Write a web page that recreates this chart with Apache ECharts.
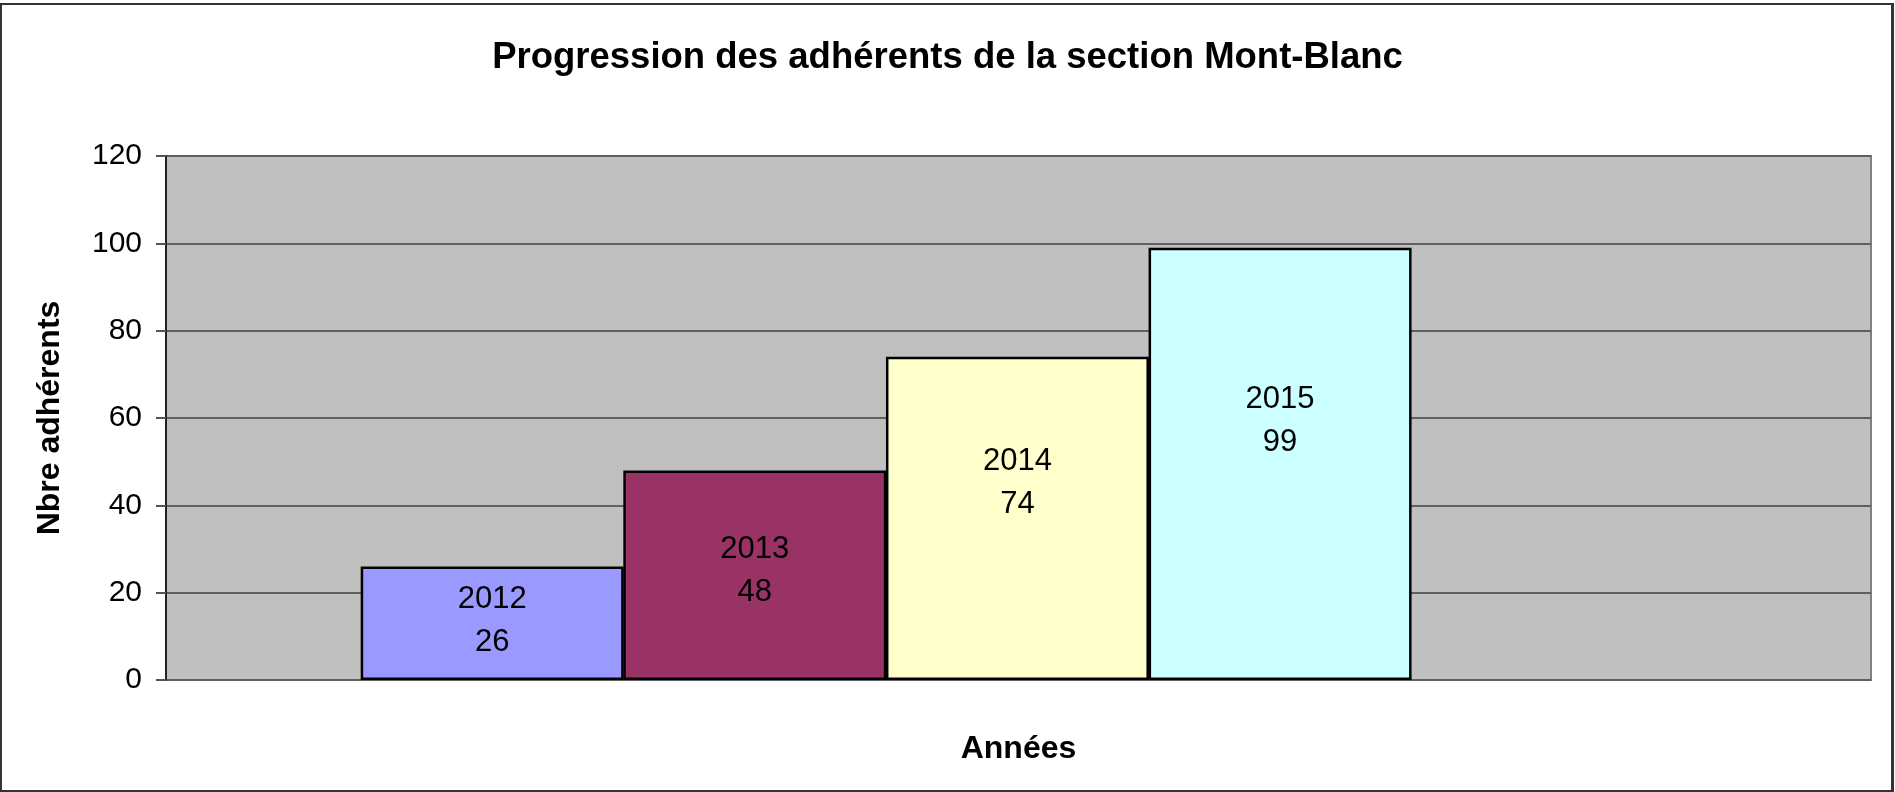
<!DOCTYPE html>
<html>
<head>
<meta charset="utf-8">
<title>Progression des adhérents</title>
<script src="https://cdn.jsdelivr.net/npm/echarts@6/dist/echarts.min.js"></script>
<style>
  html, body { margin: 0; padding: 0; background: #fff; }
  #chart { width: 1895px; height: 792px; }
  .frame {
    position: absolute; left: 0; top: 3px; width: 1894px; height: 789px;
    box-sizing: border-box; border: 2px solid #333; border-right-width: 3px;
    pointer-events: none;
  }
</style>
</head>
<body>
<div id="chart"></div>
<div class="frame"></div>
<script>
// données
const years = ['2012', '2013', '2014', '2015']
const members = [26, 48, 74, 99]
const barColors = ['#9999FF', '#993366', '#FFFFCC', '#CCFFFF']
// hauteur du libellé dans la barre (comme dans Excel)
const labelTop = ['48%', '48%', '39%', '40%']
const yTicks = { min: 0, max: 120, interval: 20 }

const font = 'Liberation Sans, Arial, sans-serif'

const chart = echarts.init(document.getElementById('chart'))
chart.setOption({
  animation: false,
  textStyle: { fontFamily: font, color: '#000' },
  title: {
    text: 'Progression des adhérents de la section Mont-Blanc',
    left: 'center',
    top: 34,
    textStyle: { fontFamily: font, fontSize: 36.5, fontWeight: 'bold', color: '#000' }
  },
  grid: {
    left: 166,
    top: 156,
    right: 24,
    bottom: 112,
    show: true,
    backgroundColor: '#C0C0C0',
    borderColor: '#808080',
    borderWidth: 2
  },
  xAxis: {
    type: 'value',
    min: 2010.758,
    max: 2017.25,
    name: 'Années',
    nameLocation: 'middle',
    nameGap: 53,
    nameTextStyle: { fontFamily: font, fontSize: 32, fontWeight: 'bold', color: '#000' },
    axisLine: { show: false },
    axisTick: { show: false },
    axisLabel: { show: false },
    splitLine: { show: false }
  },
  yAxis: {
    type: 'value',
    min: yTicks.min,
    max: yTicks.max,
    interval: yTicks.interval,
    name: 'Nbre adhérents',
    nameLocation: 'middle',
    nameRotate: 90,
    nameGap: 100,
    nameTextStyle: { fontFamily: font, fontSize: 32, fontWeight: 'bold', color: '#000' },
    axisLine: { show: true, lineStyle: { color: '#222', width: 2 } },
    axisTick: { show: true, length: 10, lineStyle: { color: '#555', width: 2 } },
    axisLabel: { fontFamily: font, fontSize: 30, color: '#000', margin: 24 },
    splitLine: { show: true, lineStyle: { color: '#606060', width: 2 } }
  },
  series: [{
    type: 'bar',
    barWidth: 263,
    data: years.map((y, i) => ({
      value: [Number(y), members[i]],
      itemStyle: { color: barColors[i] },
      label: { position: ['50%', labelTop[i]] }
    })),
    itemStyle: { borderColor: '#000', borderWidth: 2.5 },
    label: {
      show: true,
      align: 'center',
      verticalAlign: 'middle',
      fontFamily: font,
      fontSize: 31,
      lineHeight: 43,
      color: '#000',
      formatter: p => p.value[0] + '\n' + p.value[1]
    }
  }]
})
</script>
</body>
</html>
